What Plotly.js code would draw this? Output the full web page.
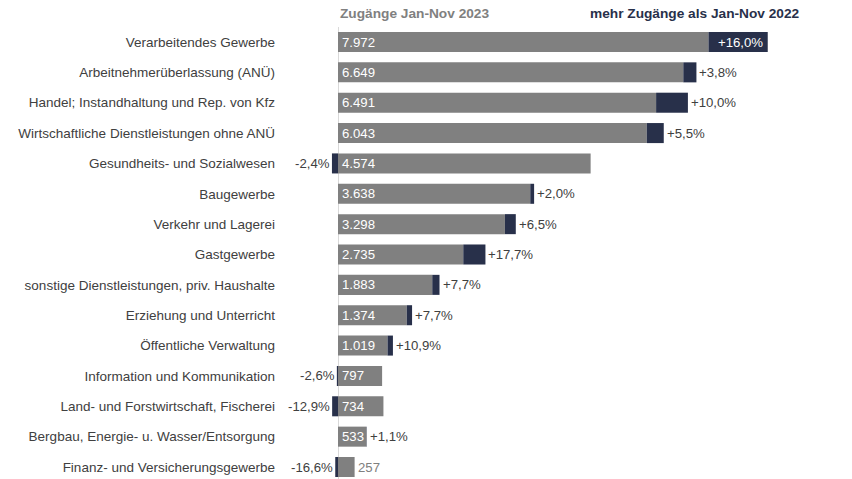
<!DOCTYPE html>
<html>
<head>
<meta charset="utf-8">
<script src="https://cdn.plot.ly/plotly-3.0.1.min.js"></script>
<style>
  body { margin: 0; background: #fff; }
  #chart { width: 852px; height: 479px; }
</style>
</head>
<body>
<div id="chart"></div>
<script>
// Zugänge Jan-Nov 2023 nach Wirtschaftszweig, Veränderung gegenüber Jan-Nov 2022 in %
var categories = [
    "Verarbeitendes Gewerbe",
    "Arbeitnehmerüberlassung (ANÜ)",
    "Handel; Instandhaltung und Rep. von Kfz",
    "Wirtschaftliche Dienstleistungen ohne ANÜ",
    "Gesundheits- und Sozialwesen",
    "Baugewerbe",
    "Verkehr und Lagerei",
    "Gastgewerbe",
    "sonstige Dienstleistungen, priv. Haushalte",
    "Erziehung und Unterricht",
    "Öffentliche Verwaltung",
    "Information und Kommunikation",
    "Land- und Forstwirtschaft, Fischerei",
    "Bergbau, Energie- u. Wasser/Entsorgung",
    "Finanz- und Versicherungsgewerbe"
];
var zugaenge2023 = [7972, 6649, 6491, 6043, 4574, 3638, 3298, 2735, 1883, 1374, 1019, 797, 734, 533, 257];
var veraenderung = [16.0, 3.8, 10.0, 5.5, -2.4, 2.0, 6.5, 17.7, 7.7, 7.7, 10.9, -2.6, -12.9, 1.1, -16.6];

var GREY = '#808080';
var NAVY = '#28304a';
var TXT = '#404040';
var NUMSIZE = 13.2;

function fmtNum(v) {
    return v.toString().replace(/\B(?=(\d{3})+(?!\d))/g, '.');
}
function fmtPct(p) {
    return (p > 0 ? '+' : '') + p.toFixed(1).replace('.', ',') + '%';
}

// grau = Vorjahreswert, dunkel = Differenz (positiv rechts angehängt, negativ links von 0)
var vorjahr = [];
var diff = [];
for (var i = 0; i < zugaenge2023.length; i++) {
    var vj = zugaenge2023[i] / (1 + veraenderung[i] / 100);
    vorjahr.push(vj);
    diff.push(zugaenge2023[i] - vj);
}

var annotations = [];
for (var i = 0; i < categories.length; i++) {
    var c = categories[i];
    // Wert im grauen Balken (zu kurze Balken: Wert daneben)
    if (vorjahr[i] > 450) {
        annotations.push({
            x: 0, y: c, xref: 'x', yref: 'y', xanchor: 'left', xshift: 2,
            text: fmtNum(zugaenge2023[i]), showarrow: false,
            font: { color: '#ffffff', size: NUMSIZE }
        });
    } else {
        annotations.push({
            x: vorjahr[i], y: c, xref: 'x', yref: 'y', xanchor: 'left', xshift: 1,
            text: fmtNum(zugaenge2023[i]), showarrow: false,
            font: { color: GREY, size: NUMSIZE }
        });
    }
    // Veränderung in %
    if (i === 0) {
        annotations.push({
            x: zugaenge2023[i], y: c, xref: 'x', yref: 'y', xanchor: 'right', xshift: -3,
            text: fmtPct(veraenderung[i]), showarrow: false,
            font: { color: '#ffffff', size: NUMSIZE }
        });
    } else if (veraenderung[i] > 0) {
        annotations.push({
            x: zugaenge2023[i], y: c, xref: 'x', yref: 'y', xanchor: 'left', xshift: 1,
            text: fmtPct(veraenderung[i]), showarrow: false,
            font: { color: TXT, size: NUMSIZE }
        });
    } else {
        annotations.push({
            x: diff[i], y: c, xref: 'x', yref: 'y', xanchor: 'right', xshift: 0,
            text: fmtPct(veraenderung[i]), showarrow: false,
            font: { color: TXT, size: NUMSIZE }
        });
    }
}

annotations.push({
    x: 0, y: 1, xref: 'x', yref: 'paper', xanchor: 'left', yanchor: 'bottom', yshift: 4,
    text: '<b>Zugänge Jan-Nov 2023</b>', showarrow: false,
    font: { color: GREY, size: 13.7 }
});
annotations.push({
    x: (802 - 280) / (852 - 280 - 20), y: 1, xref: 'paper', yref: 'paper',
    xanchor: 'right', yanchor: 'bottom', yshift: 4,
    text: '<b>mehr Zugänge als Jan-Nov 2022</b>', showarrow: false,
    font: { color: NAVY, size: 13.7 }
});

Plotly.newPlot('chart', [{
    type: 'bar',
    orientation: 'h',
    y: categories,
    x: vorjahr,
    marker: { color: GREY },
    width: 0.66,
    hoverinfo: 'skip'
}, {
    type: 'bar',
    orientation: 'h',
    y: categories,
    x: diff,
    marker: { color: NAVY },
    width: 0.66,
    hoverinfo: 'skip'
}], {
    barmode: 'relative',
    showlegend: false,
    width: 852,
    height: 479,
    margin: { l: 280, r: 20, t: 27, b: 0 },
    paper_bgcolor: '#ffffff',
    plot_bgcolor: '#ffffff',
    font: { family: 'Liberation Sans, Arial, sans-serif', color: TXT, size: 13.5 },
    xaxis: {
        range: [-1076, 9164],
        showgrid: false,
        showticklabels: false,
        zeroline: true,
        zerolinecolor: '#d9d9d9',
        zerolinewidth: 1
    },
    yaxis: {
        type: 'category',
        range: [14.395, -0.494],
        showgrid: false,
        zeroline: false,
        ticks: '',
        ticklabelstandoff: 4,
        tickfont: { size: 13.5, color: TXT }
    },
    annotations: annotations
}, { displayModeBar: false, staticPlot: true });
</script>
</body>
</html>
